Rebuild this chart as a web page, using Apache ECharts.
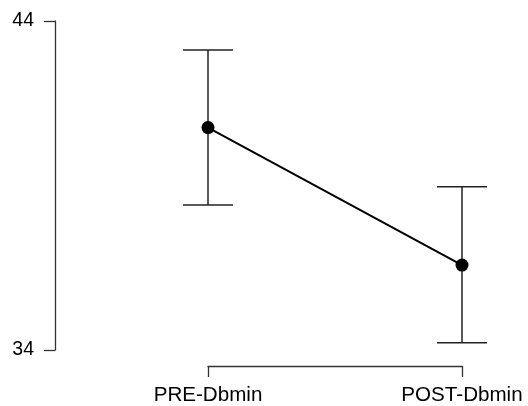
<!DOCTYPE html>
<html>
<head>
<meta charset="utf-8">
<script src="https://cdn.jsdelivr.net/npm/echarts@6/dist/echarts.min.js"></script>
<style>
  html, body { margin: 0; padding: 0; background: #fff; }
  #chart { width: 528px; height: 406px; }
</style>
</head>
<body>
<div id="chart"></div>
<script>
// Conditions on the x axis
const categories = ['PRE-Dbmin', 'POST-Dbmin'];
// Group means
const means = [40.76, 36.58];
// Error bar ends
const lowerBounds = [38.41, 34.22];
const upperBounds = [43.12, 38.96];
// Y axis range and its labelled ticks
const yMin = 34;
const yMax = 44;

const chart = echarts.init(document.getElementById('chart'), null, { renderer: 'canvas' });

const axisColor = '#333';
const font = 'Liberation Sans, Arial, sans-serif';

chart.setOption({
  animation: false,
  backgroundColor: '#fff',
  grid: { left: 208, right: 66, top: 21, bottom: 56 },
  xAxis: {
    type: 'category',
    data: categories,
    boundaryGap: false,
    offset: 16,
    axisLine: { show: true, onZero: false, lineStyle: { color: axisColor, width: 1.3 } },
    axisTick: { show: true, length: 11, lineStyle: { color: axisColor, width: 1.3 } },
    axisLabel: { margin: 19, color: '#000', fontSize: 20.6, fontFamily: font },
    splitLine: { show: false }
  },
  yAxis: {
    type: 'value',
    min: yMin,
    max: yMax,
    interval: yMax - yMin,
    offset: 153,
    axisLine: { show: true, onZero: false, lineStyle: { color: axisColor, width: 1.3 } },
    axisTick: { show: true, length: 11, lineStyle: { color: axisColor, width: 1.3 } },
    axisLabel: { margin: 21, color: '#000', fontSize: 19.5, fontFamily: font, padding: [2, 0, 0, 0] },
    splitLine: { show: false }
  },
  series: [
    {
      type: 'custom',
      data: categories.map((c, i) => [i, lowerBounds[i], upperBounds[i]]),
      renderItem: function (params, api) {
        const x = api.value(0);
        const lo = api.coord([x, api.value(1)]);
        const hi = api.coord([x, api.value(2)]);
        const half = 25;
        const style = { stroke: '#222', lineWidth: 1.5 };
        return {
          type: 'group',
          children: [
            { type: 'line', shape: { x1: lo[0], y1: lo[1], x2: hi[0], y2: hi[1] }, style: style },
            { type: 'line', shape: { x1: hi[0] - half, y1: hi[1], x2: hi[0] + half, y2: hi[1] }, style: style },
            { type: 'line', shape: { x1: lo[0] - half, y1: lo[1], x2: lo[0] + half, y2: lo[1] }, style: style }
          ]
        };
      },
      z: 1
    },
    {
      type: 'line',
      data: means,
      symbol: 'circle',
      symbolSize: 13,
      lineStyle: { color: '#000', width: 2 },
      itemStyle: { color: '#000' },
      z: 2
    }
  ]
});
</script>
</body>
</html>
